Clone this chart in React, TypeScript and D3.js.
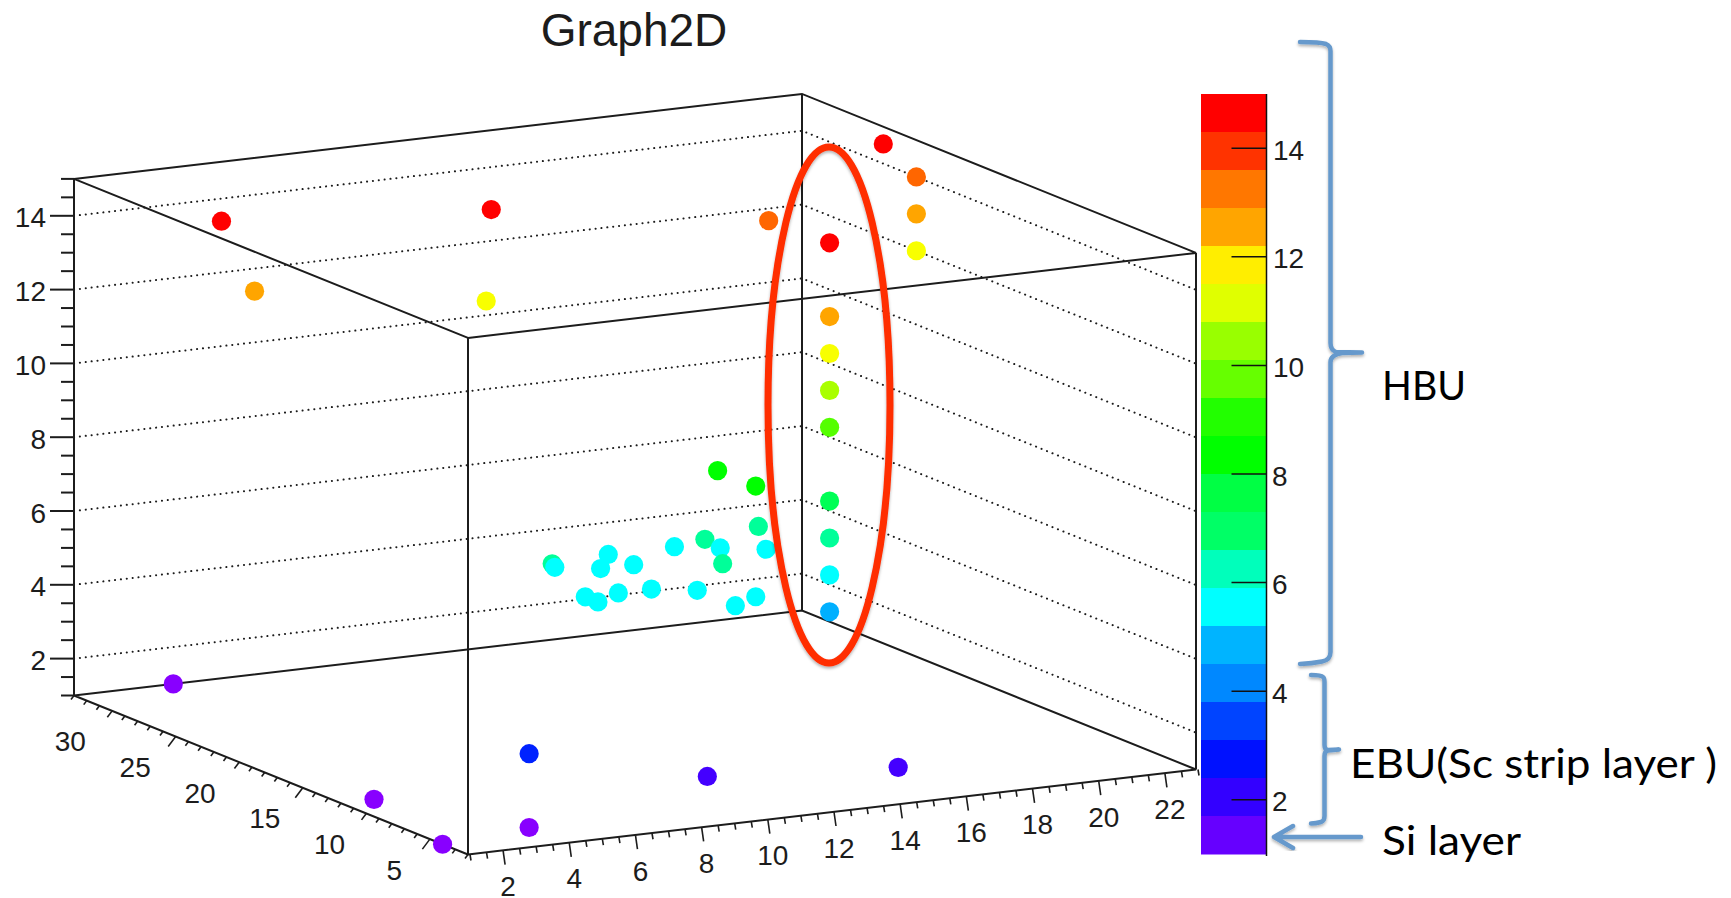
import * as d3 from 'd3';

const width = 1731;
const height = 898;

const titleText = 'Graph2D';

const xDomain = [1, 23];
const yDomain = [2, 33];
const zDomain = [1, 15];

const xLabels = [2, 4, 6, 8, 10, 12, 14, 16, 18, 20, 22];
const yLabels = [5, 10, 15, 20, 25, 30];
const zLabels = [2, 4, 6, 8, 10, 12, 14];

const pointX = [7, 9, 11, 10, 11, 13, 12, 14, 11, 12, 12, 14, 15, 8, 8, 9, 10, 11, 11, 12,
  15, 15, 15, 15, 15, 15, 15, 15, 15,
  22, 23, 23, 23, 17, 2, 9, 3, 10, 4, 2, 1, 4, 4, 9, 14];
const pointY = [11, 16, 17, 15, 15, 17, 12, 16, 8, 11, 8, 13, 15, 11, 10, 11, 11, 10, 7, 8,
  10, 10, 10, 10, 10, 10, 10, 10, 10,
  24, 24, 24, 24, 20, 24, 21, 24, 24, 33, 12, 4, 5, 5, 4, 2];
const pointZ = [7, 6, 6, 6, 6, 6, 7, 6, 7, 9, 9, 7, 6, 6, 6, 6, 6, 6, 6, 6,
  5, 6, 7, 8, 10, 11, 12, 13, 15,
  15, 14, 13, 12, 14, 15, 15, 13, 12, 1, 1, 1, 1, 3, 2, 2];

const pointLevels = [1, 2, 3, 5, 6, 7, 8, 9, 10, 11, 12, 13, 14, 15];
const pointColours = ['#8800ff', '#4400ff', '#0022ff', '#00b0ff', '#00ffff', '#00ff99', '#00ff55',
  '#00ff00', '#55ff00', '#aaff00', '#f8ff00', '#ffa500', '#ff6600', '#ff0000'];

// palette of the colour bar, top to bottom
const barColours = ['#ff0000', '#ff3300', '#ff7700', '#ffa500', '#ffee00', '#e0ff00', '#99ff00',
  '#66ff00', '#22ff00', '#00ff00', '#00ff44', '#00ff66', '#00ffbb', '#00ffff', '#00b4ff',
  '#0088ff', '#0044ff', '#0011ff', '#3300ff', '#6600ff'];

const originX = 468;
const originY = 854.5;

const xToX = d3.scaleLinear().domain(xDomain).range([0, 728]);
const xToY = d3.scaleLinear().domain(xDomain).range([0, -85]);
const yToX = d3.scaleLinear().domain(yDomain).range([0, -394]);
const yToY = d3.scaleLinear().domain(yDomain).range([0, -159]);
const zToY = d3.scaleLinear().domain(zDomain).range([0, -516.6]);

const barY = d3.scaleLinear().domain(zDomain).range([854, 94]);
const pointColour = d3.scaleOrdinal<number, string>().domain(pointLevels).range(pointColours);

function project(x: number, y: number, z: number): [number, number] {
  return [
    originX + xToX(x) + yToX(y),
    originY + xToY(x) + yToY(y) + zToY(z),
  ];
}

const line = d3.line();
const [x0, x1] = xDomain;
const [y0, y1] = yDomain;
const [z0, z1] = zDomain;

const boxEdges: [number, number, number][][] = [
  // floor
  [[x0, y0, z0], [x1, y0, z0], [x1, y1, z0], [x0, y1, z0], [x0, y0, z0]],
  // roof
  [[x0, y0, z1], [x1, y0, z1], [x1, y1, z1], [x0, y1, z1], [x0, y0, z1]],
  // uprights
  [[x0, y0, z0], [x0, y0, z1]],
  [[x1, y0, z0], [x1, y0, z1]],
  [[x1, y1, z0], [x1, y1, z1]],
  [[x0, y1, z0], [x0, y1, z1]],
];

const xTicks = d3.range(1, 23.01, 0.5);
const yTicks = d3.range(2, 33.01, 1);
const zTicks = d3.range(1, 15.01, 0.5);

const xTickNudge = 2; // ticks sit a little right of the point grid

const sans = '"Liberation Sans", Arial, sans-serif';
const note = 'Lato, "Noto Sans", sans-serif';
const ink = '#1c1c1c';
const blue = '#6699cc';

function Brace({ d }: { d: string }) {
  return <path d={d} fill="none" stroke={blue} strokeWidth={4.5} strokeLinecap="round" strokeLinejoin="round" filter="url(#soft)" />;
}

export default function App() {
  return (
    <svg width={width} height={height} viewBox={`0 0 ${width} ${height}`}
      style={{ position: 'absolute', left: 0, top: 0, display: 'block', background: '#fff' }}>
      <defs>
        <filter id="soft" x="-30%" y="-10%" width="160%" height="120%">
          <feDropShadow dx="0" dy="2" stdDeviation="1.6" floodColor="#000" floodOpacity="0.3" />
        </filter>
      </defs>

      <text x={634} y={46} textAnchor="middle" fontFamily={sans} fontSize={46} fill={ink}>{titleText}</text>

      {/* dotted grid on the two back walls */}
      <g fill="none" stroke={ink} strokeWidth={2} strokeDasharray="0.1 5.8" strokeLinecap="round">
        {zLabels.map((z) => (
          <path key={z} d={line([project(x0, y1, z), project(x1, y1, z), project(x1, y0, z)]) as string} />
        ))}
      </g>

      {/* box */}
      <g fill="none" stroke={ink} strokeWidth={2}>
        {boxEdges.map((edge, i) => (
          <path key={i} d={line(edge.map((p) => project(p[0], p[1], p[2]))) as string} />
        ))}
      </g>

      {/* z axis */}
      <g stroke={ink} strokeWidth={2}>
        {zTicks.map((z) => {
          const [px, py] = project(x0, y1, z);
          const major = z % 2 === 0;
          return <line key={z} x1={px} x2={px - (major ? 24 : 13)} y1={py} y2={py} />;
        })}
      </g>
      <g fontFamily={sans} fontSize={28} fill={ink} textAnchor="end" dominantBaseline="central">
        {zLabels.map((z) => {
          const [px, py] = project(x0, y1, z);
          return <text key={z} x={px - 28} y={py + 2}>{z}</text>;
        })}
      </g>

      {/* x axis */}
      <g stroke={ink} strokeWidth={1.6}>
        {xTicks.map((x) => {
          const [px, py] = project(x, y0, z0);
          const major = x % 2 === 0;
          return <line key={x} x1={px + xTickNudge} y1={py} x2={px + xTickNudge + (major ? 2 : 1)} y2={py + (major ? 14 : 6)} />;
        })}
      </g>
      <g fontFamily={sans} fontSize={28} fill={ink} textAnchor="middle" dominantBaseline="central">
        {xLabels.map((x) => {
          const [px, py] = project(x, y0, z0);
          return <text key={x} x={px + xTickNudge + 5} y={py + 36}>{x}</text>;
        })}
      </g>

      {/* y axis */}
      <g stroke={ink} strokeWidth={1.6}>
        {yTicks.map((y) => {
          const [px, py] = project(x0, y, z0);
          const len = y % 5 !== 0 ? 0.5 : y % 10 === 5 ? 1.25 : 0.8;
          return <line key={y} x1={px} y1={py} x2={px - 6 * len} y2={py + 8 * len} />;
        })}
      </g>
      <g fontFamily={sans} fontSize={28} fill={ink} textAnchor="middle" dominantBaseline="central">
        {yLabels.map((y) => {
          const [px, py] = project(x0, y, z0);
          return <text key={y} x={px - 38 - (y - 15) * 0.25} y={py + 31}>{y}</text>;
        })}
      </g>

      {/* hits */}
      <g>
        {pointX.map((x, i) => {
          const [px, py] = project(x, pointY[i], pointZ[i]);
          return <circle key={i} cx={px} cy={py} r={9.6} fill={pointColour(pointZ[i])} />;
        })}
      </g>

      {/* colour bar */}
      <g>
        {barColours.map((c, i) => {
          const top = barY(z1 - i * 0.7);
          const bottom = barY(z1 - (i + 1) * 0.7);
          return <rect key={c} x={1201} y={top} width={65.5} height={bottom - top + 0.5} fill={c} />;
        })}
      </g>
      <line x1={1266.5} x2={1266.5} y1={barY(z1)} y2={barY(z0) + 2} stroke="#111" strokeWidth={1.5} />
      <g stroke="#111" strokeWidth={1.5}>
        {zLabels.map((z) => (
          <line key={z} x1={1231.5} x2={1266.5} y1={barY(z)} y2={barY(z)} />
        ))}
      </g>
      <g fontFamily={sans} fontSize={28} fill={ink} dominantBaseline="central">
        {zLabels.map((z) => (
          <text key={z} x={z < 10 ? 1272 : 1273} y={barY(z) + 2}>{z}</text>
        ))}
      </g>

      {/* hand annotations */}
      <ellipse cx={829} cy={405} rx={61} ry={258} fill="none" stroke="#ff2d00" strokeWidth={7} filter="url(#soft)" />
      <Brace d="M1300,42 Q1320,42 1326,44 Q1330.5,46 1330.5,51 L1330.5,343 Q1330.5,350 1336,352 L1362,352.5 L1342,353 Q1330.5,355 1330.5,362 L1330.5,652 Q1330.5,660 1322,661.5 Q1312,663.5 1300,664" />
      <Brace d="M1311,675 Q1321,675 1323,677 Q1324.5,678 1324.5,682 L1324.5,745 Q1324.5,750 1328,750 L1339,749.5 L1328,750.5 Q1324.5,751 1324.5,756 L1324.5,816 Q1324.5,821 1321,822 Q1316,823.5 1311,823.5" />
      <path d="M1361,837 L1274,837 M1293,826 L1274,837 L1293,848" fill="none" stroke={blue} strokeWidth={4.5} strokeLinecap="round" strokeLinejoin="round" filter="url(#soft)" />

      <g fontFamily={note} fontSize={41} fill="#000">
        <text x={1382} y={400} textLength={84} lengthAdjust="spacingAndGlyphs">HBU</text>
        <text x={1350} y={778} textLength={367} lengthAdjust="spacingAndGlyphs">EBU(Sc strip layer )</text>
        <text x={1382} y={855} textLength={139} lengthAdjust="spacingAndGlyphs">Si layer</text>
      </g>
    </svg>
  );
}
